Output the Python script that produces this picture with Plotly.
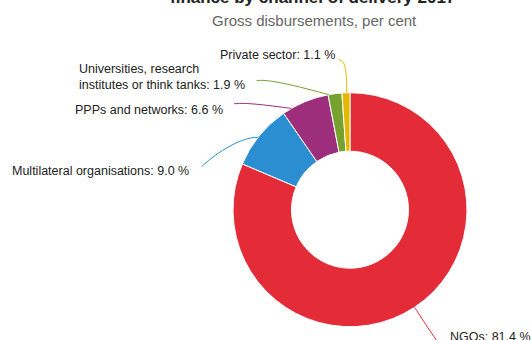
import math
import textwrap
import plotly.graph_objects as go

# ---- data ----
channels = ["NGOs", "Multilateral organisations", "PPPs and networks",
            "Universities, research institutes or think tanks", "Private sector"]
shares = [81.4, 9.0, 6.6, 1.9, 1.1]
colors = ["#e42b38", "#2b8ed0", "#9c2e7c", "#77a22f", "#e5b800"]
title_text = "finance by channel of delivery 2017"
subtitle_text = "Gross disbursements, per cent"

# ---- layout (pixels) ----
W, H = 531, 340
CX, CY, R = 350.0, 209.7, 117.0
HOLE = 0.5
FONT = "Liberation Sans, Arial, sans-serif"
LABEL_SIZE = 12.5

# per-label placement: text anchor, connector end E, touch fraction within slice,
# control-point offsets c1 (from E) and c2 (from touch point)
label_layout = [
    dict(side="left", tx=448.0, ty=336.5, ex=441.0, ey=345.0, frac=0.5, c1=(-4, -2), c2=(4, 6), wrap=None),
    dict(side="right", tx=190.5, ty=171.0, ex=201.7, ey=166.7, frac=0.47, c1=(10, -10), c2=(-20, 0), wrap=None),
    dict(side="right", tx=224.5, ty=110.5, ex=234.0, ey=103.8, frac=0.19, c1=(12, -2), c2=(-10, -1.2), wrap=None),
    dict(side="right", tx=247.0, ty=77.0, ex=256.5, ey=80.7, frac=0.05, c1=(13, -3), c2=(-10, -2.5), wrap=32),
    dict(side="right", tx=337.0, ty=55.0, ex=338.5, ey=59.8, frac=0.6, c1=(7, 0), c2=(0, -22), wrap=None),
]


def px(x):
    return x / W


def py(y):
    return 1 - y / H


fig = go.Figure()
fig.add_trace(go.Pie(
    labels=channels, values=shares, sort=False, direction="clockwise", rotation=0,
    hole=HOLE, textinfo="none", hoverinfo="label+percent",
    marker=dict(colors=colors, line=dict(color="white", width=1)),
    domain=dict(x=[px(CX - R), px(CX + R)], y=[py(CY + R), py(CY - R)]),
    showlegend=False,
))

total = sum(shares)
annotations = []
shapes = []
cum = 0.0
for name, val, col, lay in zip(channels, shares, colors, label_layout):
    start = cum / total * 360
    span = val / total * 360
    cum += val
    ang = math.radians(start + lay["frac"] * span)
    tx_ = CX + R * math.sin(ang)
    ty_ = CY - R * math.cos(ang)
    ex, ey = lay["ex"], lay["ey"]
    c1 = (ex + lay["c1"][0], ey + lay["c1"][1])
    c2 = (tx_ + lay["c2"][0], ty_ + lay["c2"][1])
    path = "M {:.4f},{:.4f} C {:.4f},{:.4f} {:.4f},{:.4f} {:.4f},{:.4f}".format(
        px(ex), py(ey), px(c1[0]), py(c1[1]), px(c2[0]), py(c2[1]), px(tx_), py(ty_))
    shapes.append(dict(type="path", xref="paper", yref="paper", path=path,
                       line=dict(color=col, width=1)))
    label = f"{name}: {val:.1f} %"
    if lay["wrap"]:
        label = "<br>".join(textwrap.wrap(label, lay["wrap"]))
    annotations.append(dict(
        x=px(lay["tx"]), y=py(lay["ty"]), xref="paper", yref="paper",
        xanchor="left" if lay["side"] == "left" else "right", yanchor="middle",
        align="left", text=label, showarrow=False,
        font=dict(family=FONT, size=LABEL_SIZE, color="#222222")))

annotations.append(dict(x=px(312), y=py(-2.5), xref="paper", yref="paper",
                        xanchor="center", yanchor="middle", showarrow=False,
                        text=f"<b>{title_text}</b>",
                        font=dict(family=FONT, size=17, color="#222222")))
annotations.append(dict(x=px(314), y=py(20.5), xref="paper", yref="paper",
                        xanchor="center", yanchor="middle", showarrow=False,
                        text=subtitle_text,
                        font=dict(family=FONT, size=15, color="#666666")))

fig.update_layout(
    width=W, height=H, margin=dict(l=0, r=0, t=0, b=0),
    paper_bgcolor="white", plot_bgcolor="white",
    annotations=annotations, shapes=shapes,
)
fig.write_html("out.html", config={"displayModeBar": False},
               post_script="document.body.style.margin='0';document.body.style.overflow='hidden';")
